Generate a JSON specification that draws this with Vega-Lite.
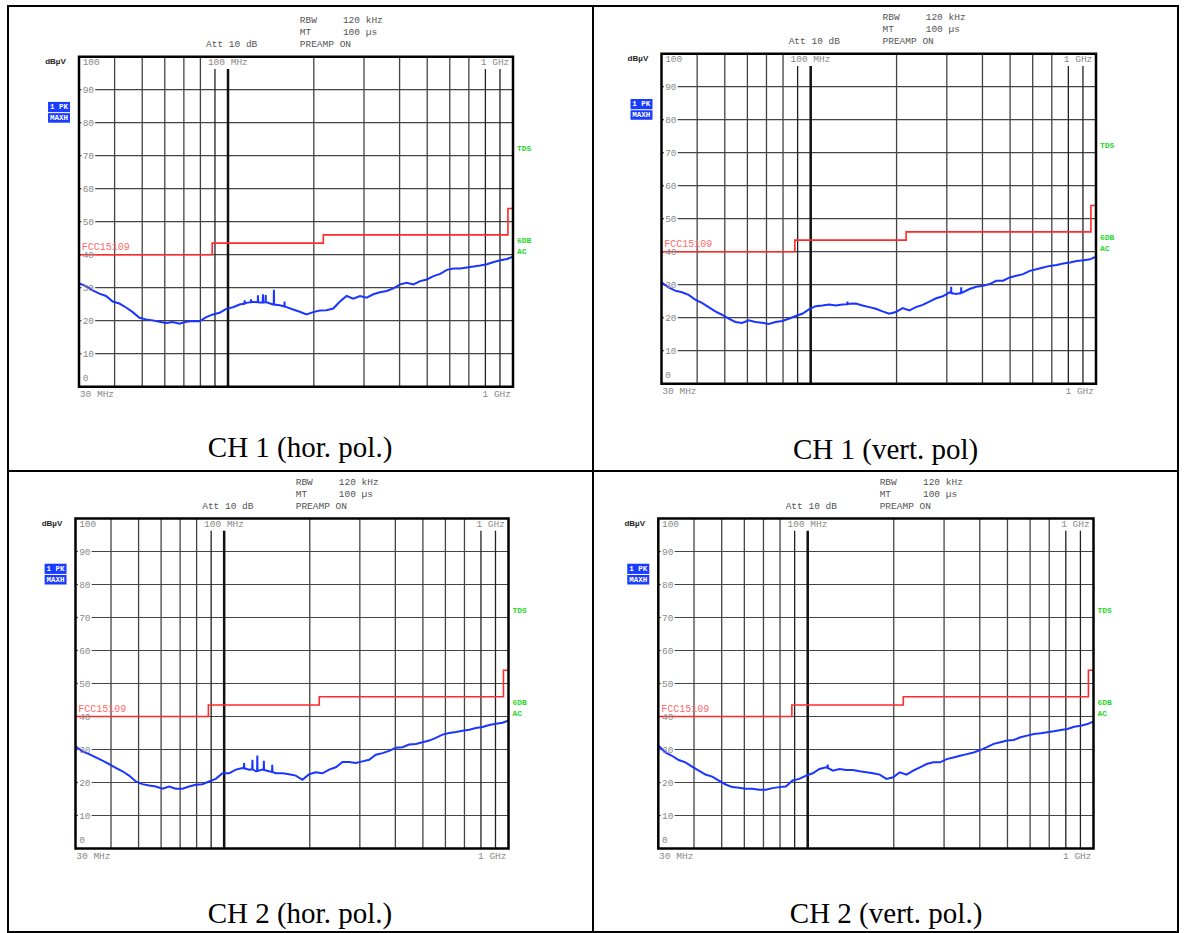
{
"$schema":"https://vega.github.io/schema/vega-lite/v6.json",
"background":"white",
"padding":{"left":7,"top":5,"right":0,"bottom":0},
"config":{"view":{"stroke":"#000","strokeWidth":2},"axis":{"disable":true}},
"datasets":{
"hgrid":[{"v":10},{"v":20},{"v":30},{"v":40},{"v":50},{"v":60},{"v":70},{"v":80},{"v":90}],
"vfull":[{"f":40},{"f":50},{"f":60},{"f":70},{"f":80},{"f":200},{"f":300},{"f":400},{"f":500},{"f":600},{"f":700}],
"vshort":[{"f":90},{"f":800},{"f":900}],
"vthick":[{"f":100}],
"one":[{"n":1}],
"limit":[{"f":30,"v":40},{"f":88,"v":43.5},{"f":216,"v":46},{"f":960,"v":54},{"f":1000,"v":54}],
"lblL":[{"t":"100","f":30.9,"v":98.4},{"t":"90","f":30.9,"v":90},{"t":"80","f":30.9,"v":80},{"t":"70","f":30.9,"v":70},{"t":"60","f":30.9,"v":60},{"t":"50","f":30.9,"v":50},{"t":"40","f":30.9,"v":40},{"t":"30","f":30.9,"v":30},{"t":"20","f":30.9,"v":20},{"t":"10","f":30.9,"v":10},{"t":"0","f":30.9,"v":2.6},{"t":"100 MHz","f":85,"v":98.4},{"t":"1 GHz","f":771,"v":98.4},{"t":"30 MHz","f":30.2,"v":-2.2}],
"lblR":[{"t":"1 GHz","f":984,"v":-2.2}],
"header":[{"t":"Att 10 dB","f":83.7,"v":103.8},{"t":"RBW","f":178.5,"v":111.1},{"t":"120 kHz","f":253,"v":111.1},{"t":"MT","f":178.5,"v":107.5},{"t":"100 µs","f":253,"v":107.5},{"t":"PREAMP ON","f":178.5,"v":103.8}],
"green":[{"t":"TDS","f":1032,"v":72},{"t":"6DB","f":1032,"v":44.1},{"t":"AC","f":1032,"v":40.8}],
"redlbl":[{"t":"FCC15109","f":30.7,"v":42.3}],
"unit":[{"t":"dBµV","f":24.8,"v":98.4}],
"boxes":[{"f1":23.36,"f2":27.9,"v1":83.2,"v2":86.3},{"f1":23.36,"f2":27.9,"v1":80.0,"v2":82.9}],
"boxtext":[{"t":"1 PK","f":25.5,"v":84.75},{"t":"MAXH","f":25.5,"v":81.45}],
"captions":[{"p":1,"t":"CH 1 (hor. pol.)","f":179,"v":-18.6},{"p":2,"t":"CH 1 (vert. pol)","f":183,"v":-20.1},{"p":3,"t":"CH 2 (hor. pol.)","f":184.6,"v":-19.8},{"p":4,"t":"CH 2 (vert. pol.)","f":188,"v":-19.8}],
"trace":[
{"p":1,"f":30,"v":31.3},{"p":1,"f":31.75,"v":30.5},{"p":1,"f":33.49,"v":29.2},{"p":1,"f":35.36,"v":28.2},{"p":1,"f":37.33,"v":27.5},{"p":1,"f":39.39,"v":25.8},{"p":1,"f":41.58,"v":25.2},{"p":1,"f":43.88,"v":24.0},{"p":1,"f":46.31,"v":22.6},{"p":1,"f":48.88,"v":20.9},{"p":1,"f":51.59,"v":20.4},{"p":1,"f":54.46,"v":20.1},{"p":1,"f":57.47,"v":19.7},{"p":1,"f":60.66,"v":19.3},{"p":1,"f":64.03,"v":19.6},{"p":1,"f":67.57,"v":19.1},{"p":1,"f":71.32,"v":19.7},{"p":1,"f":75.28,"v":19.9},{"p":1,"f":79.45,"v":19.8},{"p":1,"f":83.86,"v":21.1},{"p":1,"f":88.52,"v":21.9},{"p":1,"f":93.43,"v":22.4},{"p":1,"f":98.61,"v":23.6},{"p":1,"f":104.1,"v":24.1},{"p":1,"f":109.9,"v":24.9},{"p":1,"f":114.2,"v":25.2},{"p":1,"f":114.4,"v":26.2},{"p":1,"f":114.6,"v":25.2},{"p":1,"f":116.0,"v":25.4},{"p":1,"f":120.2,"v":25.6},{"p":1,"f":120.4,"v":26.5},{"p":1,"f":120.6,"v":25.6},{"p":1,"f":122.4,"v":25.7},{"p":1,"f":127.2,"v":25.6},{"p":1,"f":127.4,"v":27.7},{"p":1,"f":127.6,"v":25.6},{"p":1,"f":129.2,"v":25.5},{"p":1,"f":132.4,"v":25.5},{"p":1,"f":132.6,"v":28.0},{"p":1,"f":132.8,"v":25.5},{"p":1,"f":135.4,"v":25.6},{"p":1,"f":135.6,"v":27.8},{"p":1,"f":135.8,"v":25.6},{"p":1,"f":136.4,"v":25.6},{"p":1,"f":143.9,"v":24.9},{"p":1,"f":144.7,"v":24.9},{"p":1,"f":144.9,"v":29.4},{"p":1,"f":145.1,"v":24.9},{"p":1,"f":151.9,"v":24.7},{"p":1,"f":157.7,"v":24.3},{"p":1,"f":157.9,"v":25.8},{"p":1,"f":158.1,"v":24.3},{"p":1,"f":160.4,"v":24.1},{"p":1,"f":169.2,"v":23.4},{"p":1,"f":178.6,"v":22.7},{"p":1,"f":188.5,"v":21.9},{"p":1,"f":199.0,"v":22.6},{"p":1,"f":210.0,"v":23.1},{"p":1,"f":221.7,"v":23.2},{"p":1,"f":234.0,"v":23.7},{"p":1,"f":247.0,"v":25.8},{"p":1,"f":260.7,"v":27.5},{"p":1,"f":275.1,"v":26.7},{"p":1,"f":290.4,"v":27.5},{"p":1,"f":306.5,"v":27.0},{"p":1,"f":323.5,"v":28.0},{"p":1,"f":341.5,"v":28.6},{"p":1,"f":360.4,"v":29.0},{"p":1,"f":380.4,"v":29.8},{"p":1,"f":401.6,"v":31.0},{"p":1,"f":423.8,"v":31.5},{"p":1,"f":447.3,"v":31.0},{"p":1,"f":472.2,"v":32.0},{"p":1,"f":498.4,"v":32.5},{"p":1,"f":526.1,"v":33.5},{"p":1,"f":555.2,"v":34.2},{"p":1,"f":586.0,"v":35.4},{"p":1,"f":618.6,"v":35.8},{"p":1,"f":652.9,"v":35.8},{"p":1,"f":689.2,"v":36.1},{"p":1,"f":727.5,"v":36.4},{"p":1,"f":767.8,"v":36.7},{"p":1,"f":810.5,"v":37.1},{"p":1,"f":855.5,"v":37.8},{"p":1,"f":903.0,"v":38.3},{"p":1,"f":953.2,"v":38.7},{"p":1,"f":1000,"v":39.4},
{"p":2,"f":30,"v":30.7},{"p":2,"f":31.75,"v":29.2},{"p":2,"f":33.49,"v":28.2},{"p":2,"f":35.36,"v":27.7},{"p":2,"f":37.33,"v":26.9},{"p":2,"f":39.39,"v":25.5},{"p":2,"f":41.58,"v":24.5},{"p":2,"f":43.88,"v":23.2},{"p":2,"f":46.31,"v":21.9},{"p":2,"f":48.88,"v":20.9},{"p":2,"f":51.59,"v":19.7},{"p":2,"f":54.46,"v":18.7},{"p":2,"f":57.47,"v":18.4},{"p":2,"f":60.66,"v":19.2},{"p":2,"f":64.03,"v":18.7},{"p":2,"f":67.57,"v":18.5},{"p":2,"f":71.32,"v":18.1},{"p":2,"f":75.28,"v":18.7},{"p":2,"f":79.45,"v":19.0},{"p":2,"f":83.86,"v":19.7},{"p":2,"f":88.52,"v":20.5},{"p":2,"f":93.43,"v":21.2},{"p":2,"f":98.61,"v":22.5},{"p":2,"f":104.1,"v":23.5},{"p":2,"f":109.9,"v":23.7},{"p":2,"f":116.0,"v":24.0},{"p":2,"f":122.4,"v":23.7},{"p":2,"f":129.2,"v":24.0},{"p":2,"f":134.3,"v":24.1},{"p":2,"f":134.5,"v":24.9},{"p":2,"f":134.7,"v":24.1},{"p":2,"f":136.4,"v":24.2},{"p":2,"f":143.9,"v":24.3},{"p":2,"f":151.9,"v":23.7},{"p":2,"f":160.4,"v":23.2},{"p":2,"f":169.2,"v":22.7},{"p":2,"f":178.6,"v":21.9},{"p":2,"f":188.5,"v":21.2},{"p":2,"f":199.0,"v":21.7},{"p":2,"f":210.0,"v":22.9},{"p":2,"f":221.7,"v":22.2},{"p":2,"f":234.0,"v":23.2},{"p":2,"f":247.0,"v":23.9},{"p":2,"f":260.7,"v":24.9},{"p":2,"f":275.1,"v":25.9},{"p":2,"f":290.4,"v":26.5},{"p":2,"f":306.5,"v":27.7},{"p":2,"f":310.6,"v":27.5},{"p":2,"f":310.8,"v":29.4},{"p":2,"f":311.0,"v":27.5},{"p":2,"f":323.5,"v":27.2},{"p":2,"f":336.7,"v":27.5},{"p":2,"f":336.9,"v":29.2},{"p":2,"f":337.1,"v":27.5},{"p":2,"f":341.5,"v":27.7},{"p":2,"f":360.4,"v":28.7},{"p":2,"f":380.4,"v":29.4},{"p":2,"f":401.6,"v":29.7},{"p":2,"f":423.8,"v":30.2},{"p":2,"f":447.3,"v":31.2},{"p":2,"f":472.2,"v":31.2},{"p":2,"f":498.4,"v":32.2},{"p":2,"f":526.1,"v":32.7},{"p":2,"f":555.2,"v":33.2},{"p":2,"f":586.0,"v":34.2},{"p":2,"f":618.6,"v":34.7},{"p":2,"f":652.9,"v":35.2},{"p":2,"f":689.2,"v":35.7},{"p":2,"f":727.5,"v":36.0},{"p":2,"f":767.8,"v":36.4},{"p":2,"f":810.5,"v":36.7},{"p":2,"f":855.5,"v":37.2},{"p":2,"f":903.0,"v":37.4},{"p":2,"f":953.2,"v":37.7},{"p":2,"f":1000,"v":38.5},
{"p":3,"f":30,"v":31.0},{"p":3,"f":31.75,"v":29.4},{"p":3,"f":33.49,"v":28.6},{"p":3,"f":35.36,"v":27.6},{"p":3,"f":37.33,"v":26.6},{"p":3,"f":39.39,"v":25.6},{"p":3,"f":41.58,"v":24.4},{"p":3,"f":43.88,"v":23.4},{"p":3,"f":46.31,"v":22.1},{"p":3,"f":48.88,"v":20.3},{"p":3,"f":51.59,"v":19.5},{"p":3,"f":54.46,"v":19.1},{"p":3,"f":57.47,"v":18.8},{"p":3,"f":60.66,"v":18.1},{"p":3,"f":64.03,"v":18.8},{"p":3,"f":67.57,"v":18.1},{"p":3,"f":71.32,"v":18.1},{"p":3,"f":75.28,"v":18.8},{"p":3,"f":79.45,"v":19.3},{"p":3,"f":83.86,"v":19.5},{"p":3,"f":88.52,"v":20.3},{"p":3,"f":93.43,"v":21.1},{"p":3,"f":98.61,"v":22.8},{"p":3,"f":104.1,"v":22.8},{"p":3,"f":109.9,"v":23.9},{"p":3,"f":116.0,"v":24.4},{"p":3,"f":117.3,"v":24.3},{"p":3,"f":117.5,"v":25.9},{"p":3,"f":117.7,"v":24.3},{"p":3,"f":122.4,"v":23.9},{"p":3,"f":125.5,"v":24.0},{"p":3,"f":125.7,"v":26.9},{"p":3,"f":125.9,"v":24.0},{"p":3,"f":129.2,"v":23.4},{"p":3,"f":130.6,"v":23.5},{"p":3,"f":130.8,"v":28.2},{"p":3,"f":131.0,"v":23.5},{"p":3,"f":136.4,"v":23.9},{"p":3,"f":137.7,"v":23.8},{"p":3,"f":137.9,"v":26.6},{"p":3,"f":138.1,"v":23.8},{"p":3,"f":143.9,"v":23.4},{"p":3,"f":147.4,"v":23.2},{"p":3,"f":147.6,"v":25.4},{"p":3,"f":147.8,"v":23.2},{"p":3,"f":151.9,"v":22.8},{"p":3,"f":160.4,"v":22.8},{"p":3,"f":169.2,"v":22.5},{"p":3,"f":178.6,"v":22.1},{"p":3,"f":188.5,"v":20.8},{"p":3,"f":199.0,"v":22.5},{"p":3,"f":210.0,"v":23.1},{"p":3,"f":221.7,"v":22.8},{"p":3,"f":234.0,"v":23.9},{"p":3,"f":247.0,"v":24.6},{"p":3,"f":260.7,"v":26.2},{"p":3,"f":275.1,"v":26.2},{"p":3,"f":290.4,"v":25.9},{"p":3,"f":306.5,"v":26.4},{"p":3,"f":323.5,"v":26.9},{"p":3,"f":341.5,"v":28.4},{"p":3,"f":360.4,"v":28.9},{"p":3,"f":380.4,"v":29.6},{"p":3,"f":401.6,"v":30.5},{"p":3,"f":423.8,"v":30.7},{"p":3,"f":447.3,"v":31.5},{"p":3,"f":472.2,"v":31.7},{"p":3,"f":498.4,"v":32.2},{"p":3,"f":526.1,"v":32.7},{"p":3,"f":555.2,"v":33.5},{"p":3,"f":586.0,"v":34.5},{"p":3,"f":618.6,"v":35.0},{"p":3,"f":652.9,"v":35.3},{"p":3,"f":689.2,"v":35.7},{"p":3,"f":727.5,"v":36.0},{"p":3,"f":767.8,"v":36.5},{"p":3,"f":810.5,"v":36.8},{"p":3,"f":855.5,"v":37.4},{"p":3,"f":903.0,"v":37.8},{"p":3,"f":953.2,"v":38.1},{"p":3,"f":1000,"v":38.8},
{"p":4,"f":30,"v":31.2},{"p":4,"f":31.75,"v":29.1},{"p":4,"f":33.49,"v":28.1},{"p":4,"f":35.36,"v":26.8},{"p":4,"f":37.33,"v":26.1},{"p":4,"f":39.39,"v":24.8},{"p":4,"f":41.58,"v":23.6},{"p":4,"f":43.88,"v":22.4},{"p":4,"f":46.31,"v":21.8},{"p":4,"f":48.88,"v":20.6},{"p":4,"f":51.59,"v":19.4},{"p":4,"f":54.46,"v":18.6},{"p":4,"f":57.47,"v":18.4},{"p":4,"f":60.66,"v":18.1},{"p":4,"f":64.03,"v":18.1},{"p":4,"f":67.57,"v":17.8},{"p":4,"f":71.32,"v":17.8},{"p":4,"f":75.28,"v":18.3},{"p":4,"f":79.45,"v":18.6},{"p":4,"f":83.86,"v":18.8},{"p":4,"f":88.52,"v":20.6},{"p":4,"f":93.43,"v":21.1},{"p":4,"f":98.61,"v":22.1},{"p":4,"f":104.1,"v":22.8},{"p":4,"f":109.9,"v":24.1},{"p":4,"f":116.0,"v":24.6},{"p":4,"f":117.3,"v":24.4},{"p":4,"f":117.5,"v":25.4},{"p":4,"f":117.7,"v":24.4},{"p":4,"f":122.4,"v":23.6},{"p":4,"f":129.2,"v":24.1},{"p":4,"f":136.4,"v":23.8},{"p":4,"f":143.9,"v":23.8},{"p":4,"f":151.9,"v":23.4},{"p":4,"f":160.4,"v":23.1},{"p":4,"f":169.2,"v":22.8},{"p":4,"f":178.6,"v":22.4},{"p":4,"f":188.5,"v":21.1},{"p":4,"f":199.0,"v":21.6},{"p":4,"f":210.0,"v":23.1},{"p":4,"f":221.7,"v":22.4},{"p":4,"f":234.0,"v":23.6},{"p":4,"f":247.0,"v":24.6},{"p":4,"f":260.7,"v":25.6},{"p":4,"f":275.1,"v":26.1},{"p":4,"f":290.4,"v":26.1},{"p":4,"f":306.5,"v":27.1},{"p":4,"f":323.5,"v":27.6},{"p":4,"f":341.5,"v":28.1},{"p":4,"f":360.4,"v":28.6},{"p":4,"f":380.4,"v":29.1},{"p":4,"f":401.6,"v":29.8},{"p":4,"f":423.8,"v":30.7},{"p":4,"f":447.3,"v":31.7},{"p":4,"f":472.2,"v":32.2},{"p":4,"f":498.4,"v":32.7},{"p":4,"f":526.1,"v":32.9},{"p":4,"f":555.2,"v":33.7},{"p":4,"f":586.0,"v":34.2},{"p":4,"f":618.6,"v":34.7},{"p":4,"f":652.9,"v":34.9},{"p":4,"f":689.2,"v":35.2},{"p":4,"f":727.5,"v":35.5},{"p":4,"f":767.8,"v":35.9},{"p":4,"f":810.5,"v":36.2},{"p":4,"f":855.5,"v":36.9},{"p":4,"f":903.0,"v":37.2},{"p":4,"f":953.2,"v":37.7},{"p":4,"f":1000,"v":38.5}
]
},
"columns":2,
"spacing":0,
"bounds":"flush",
"concat":[
{"width":585,"height":465,"layer":[
{"data":{"name":"hgrid"},"mark":{"type":"rule","color":"#444","strokeWidth":1.2},"encoding":{"x":{"datum":34.2,"type":"quantitative","scale":{"type":"log","domain":[30,1000],"range":[71,505],"nice":false},"axis":null},"x2":{"datum":1000},"y":{"field":"v","type":"quantitative","scale":{"type":"linear","domain":[0,100],"range":[380.7,50.7],"nice":false,"zero":false},"axis":null}}},
{"data":{"name":"hgrid"},"mark":{"type":"rule","color":"#444","strokeWidth":1.2},"encoding":{"x":{"datum":30,"type":"quantitative"},"x2":{"datum":30.6},"y":{"field":"v","type":"quantitative"}}},
{"data":{"name":"vfull"},"mark":{"type":"rule","color":"#444","strokeWidth":1.3},"encoding":{"x":{"field":"f","type":"quantitative"},"y":{"datum":0,"type":"quantitative"},"y2":{"datum":100}}},
{"data":{"name":"vshort"},"mark":{"type":"rule","color":"#222","strokeWidth":1.3},"encoding":{"x":{"field":"f","type":"quantitative"},"y":{"datum":0,"type":"quantitative"},"y2":{"datum":96.3}}},
{"data":{"name":"vthick"},"mark":{"type":"rule","color":"#111","strokeWidth":2.5},"encoding":{"x":{"field":"f","type":"quantitative"},"y":{"datum":0,"type":"quantitative"},"y2":{"datum":96.3}}},
{"data":{"name":"limit"},"mark":{"type":"line","color":"#ff2a2a","strokeWidth":1.6,"interpolate":"step-after"},"encoding":{"x":{"field":"f","type":"quantitative"},"y":{"field":"v","type":"quantitative"}}},
{"data":{"name":"trace"},"transform":[{"filter":"datum.p==1"}],"mark":{"type":"line","color":"#1a35ff","strokeWidth":2},"encoding":{"x":{"field":"f","type":"quantitative"},"y":{"field":"v","type":"quantitative"}}},
{"data":{"name":"one"},"mark":{"type":"rect","filled":false,"stroke":"#000","strokeWidth":2.5},"encoding":{"x":{"datum":30,"type":"quantitative"},"x2":{"datum":1000},"y":{"datum":0,"type":"quantitative"},"y2":{"datum":100}}},
{"data":{"name":"lblL"},"mark":{"type":"text","align":"left","baseline":"middle","font":"Liberation Mono","fontSize":9.5,"color":"#888"},"encoding":{"x":{"field":"f","type":"quantitative"},"y":{"field":"v","type":"quantitative"},"text":{"field":"t"}}},
{"data":{"name":"lblR"},"mark":{"type":"text","align":"right","baseline":"middle","font":"Liberation Mono","fontSize":9.5,"color":"#888"},"encoding":{"x":{"field":"f","type":"quantitative"},"y":{"field":"v","type":"quantitative"},"text":{"field":"t"}}},
{"data":{"name":"header"},"mark":{"type":"text","align":"left","baseline":"middle","font":"Liberation Mono","fontSize":9.5,"color":"#555"},"encoding":{"x":{"field":"f","type":"quantitative"},"y":{"field":"v","type":"quantitative"},"text":{"field":"t"}}},
{"data":{"name":"green"},"mark":{"type":"text","align":"left","baseline":"middle","font":"Liberation Mono","fontSize":8,"fontWeight":"bold","color":"#2ad62a"},"encoding":{"x":{"field":"f","type":"quantitative"},"y":{"field":"v","type":"quantitative"},"text":{"field":"t"}}},
{"data":{"name":"redlbl"},"mark":{"type":"text","align":"left","baseline":"middle","font":"Liberation Mono","fontSize":10,"color":"#ff6b6b"},"encoding":{"x":{"field":"f","type":"quantitative"},"y":{"field":"v","type":"quantitative"},"text":{"field":"t"}}},
{"data":{"name":"unit"},"mark":{"type":"text","align":"center","baseline":"middle","font":"Liberation Sans","fontSize":8,"fontWeight":"bold","color":"#222"},"encoding":{"x":{"field":"f","type":"quantitative"},"y":{"field":"v","type":"quantitative"},"text":{"field":"t"}}},
{"data":{"name":"boxes"},"mark":{"type":"rect","color":"#1a3cff"},"encoding":{"x":{"field":"f1","type":"quantitative"},"x2":{"field":"f2"},"y":{"field":"v1","type":"quantitative"},"y2":{"field":"v2"}}},
{"data":{"name":"boxtext"},"mark":{"type":"text","align":"center","baseline":"middle","font":"Liberation Mono","fontSize":7.5,"fontWeight":"bold","color":"#fff"},"encoding":{"x":{"field":"f","type":"quantitative"},"y":{"field":"v","type":"quantitative"},"text":{"field":"t"}}},
{"data":{"name":"captions"},"transform":[{"filter":"datum.p==1"}],"mark":{"type":"text","align":"center","baseline":"middle","font":"Liberation Serif","fontSize":29,"color":"#000"},"encoding":{"x":{"field":"f","type":"quantitative"},"y":{"field":"v","type":"quantitative"},"text":{"field":"t"}}}
]},
{"width":585,"height":465,"layer":[
{"data":{"name":"hgrid"},"mark":{"type":"rule","color":"#444","strokeWidth":1.2},"encoding":{"x":{"datum":34.2,"type":"quantitative","scale":{"type":"log","domain":[30,1000],"range":[68.5,503],"nice":false},"axis":null},"x2":{"datum":1000},"y":{"field":"v","type":"quantitative","scale":{"type":"linear","domain":[0,100],"range":[377.7,47.7],"nice":false,"zero":false},"axis":null}}},
{"data":{"name":"hgrid"},"mark":{"type":"rule","color":"#444","strokeWidth":1.2},"encoding":{"x":{"datum":30,"type":"quantitative"},"x2":{"datum":30.6},"y":{"field":"v","type":"quantitative"}}},
{"data":{"name":"vfull"},"mark":{"type":"rule","color":"#444","strokeWidth":1.3},"encoding":{"x":{"field":"f","type":"quantitative"},"y":{"datum":0,"type":"quantitative"},"y2":{"datum":100}}},
{"data":{"name":"vshort"},"mark":{"type":"rule","color":"#222","strokeWidth":1.3},"encoding":{"x":{"field":"f","type":"quantitative"},"y":{"datum":0,"type":"quantitative"},"y2":{"datum":96.3}}},
{"data":{"name":"vthick"},"mark":{"type":"rule","color":"#111","strokeWidth":2.5},"encoding":{"x":{"field":"f","type":"quantitative"},"y":{"datum":0,"type":"quantitative"},"y2":{"datum":96.3}}},
{"data":{"name":"limit"},"mark":{"type":"line","color":"#ff2a2a","strokeWidth":1.6,"interpolate":"step-after"},"encoding":{"x":{"field":"f","type":"quantitative"},"y":{"field":"v","type":"quantitative"}}},
{"data":{"name":"trace"},"transform":[{"filter":"datum.p==2"}],"mark":{"type":"line","color":"#1a35ff","strokeWidth":2},"encoding":{"x":{"field":"f","type":"quantitative"},"y":{"field":"v","type":"quantitative"}}},
{"data":{"name":"one"},"mark":{"type":"rect","filled":false,"stroke":"#000","strokeWidth":2.5},"encoding":{"x":{"datum":30,"type":"quantitative"},"x2":{"datum":1000},"y":{"datum":0,"type":"quantitative"},"y2":{"datum":100}}},
{"data":{"name":"lblL"},"mark":{"type":"text","align":"left","baseline":"middle","font":"Liberation Mono","fontSize":9.5,"color":"#888"},"encoding":{"x":{"field":"f","type":"quantitative"},"y":{"field":"v","type":"quantitative"},"text":{"field":"t"}}},
{"data":{"name":"lblR"},"mark":{"type":"text","align":"right","baseline":"middle","font":"Liberation Mono","fontSize":9.5,"color":"#888"},"encoding":{"x":{"field":"f","type":"quantitative"},"y":{"field":"v","type":"quantitative"},"text":{"field":"t"}}},
{"data":{"name":"header"},"mark":{"type":"text","align":"left","baseline":"middle","font":"Liberation Mono","fontSize":9.5,"color":"#555"},"encoding":{"x":{"field":"f","type":"quantitative"},"y":{"field":"v","type":"quantitative"},"text":{"field":"t"}}},
{"data":{"name":"green"},"mark":{"type":"text","align":"left","baseline":"middle","font":"Liberation Mono","fontSize":8,"fontWeight":"bold","color":"#2ad62a"},"encoding":{"x":{"field":"f","type":"quantitative"},"y":{"field":"v","type":"quantitative"},"text":{"field":"t"}}},
{"data":{"name":"redlbl"},"mark":{"type":"text","align":"left","baseline":"middle","font":"Liberation Mono","fontSize":10,"color":"#ff6b6b"},"encoding":{"x":{"field":"f","type":"quantitative"},"y":{"field":"v","type":"quantitative"},"text":{"field":"t"}}},
{"data":{"name":"unit"},"mark":{"type":"text","align":"center","baseline":"middle","font":"Liberation Sans","fontSize":8,"fontWeight":"bold","color":"#222"},"encoding":{"x":{"field":"f","type":"quantitative"},"y":{"field":"v","type":"quantitative"},"text":{"field":"t"}}},
{"data":{"name":"boxes"},"mark":{"type":"rect","color":"#1a3cff"},"encoding":{"x":{"field":"f1","type":"quantitative"},"x2":{"field":"f2"},"y":{"field":"v1","type":"quantitative"},"y2":{"field":"v2"}}},
{"data":{"name":"boxtext"},"mark":{"type":"text","align":"center","baseline":"middle","font":"Liberation Mono","fontSize":7.5,"fontWeight":"bold","color":"#fff"},"encoding":{"x":{"field":"f","type":"quantitative"},"y":{"field":"v","type":"quantitative"},"text":{"field":"t"}}},
{"data":{"name":"captions"},"transform":[{"filter":"datum.p==2"}],"mark":{"type":"text","align":"center","baseline":"middle","font":"Liberation Serif","fontSize":29,"color":"#000"},"encoding":{"x":{"field":"f","type":"quantitative"},"y":{"field":"v","type":"quantitative"},"text":{"field":"t"}}}
]},
{"width":585,"height":461,"layer":[
{"data":{"name":"hgrid"},"mark":{"type":"rule","color":"#444","strokeWidth":1.2},"encoding":{"x":{"datum":34.2,"type":"quantitative","scale":{"type":"log","domain":[30,1000],"range":[67.5,500.5],"nice":false},"axis":null},"x2":{"datum":1000},"y":{"field":"v","type":"quantitative","scale":{"type":"linear","domain":[0,100],"range":[377.5,47.5],"nice":false,"zero":false},"axis":null}}},
{"data":{"name":"hgrid"},"mark":{"type":"rule","color":"#444","strokeWidth":1.2},"encoding":{"x":{"datum":30,"type":"quantitative"},"x2":{"datum":30.6},"y":{"field":"v","type":"quantitative"}}},
{"data":{"name":"vfull"},"mark":{"type":"rule","color":"#444","strokeWidth":1.3},"encoding":{"x":{"field":"f","type":"quantitative"},"y":{"datum":0,"type":"quantitative"},"y2":{"datum":100}}},
{"data":{"name":"vshort"},"mark":{"type":"rule","color":"#222","strokeWidth":1.3},"encoding":{"x":{"field":"f","type":"quantitative"},"y":{"datum":0,"type":"quantitative"},"y2":{"datum":96.3}}},
{"data":{"name":"vthick"},"mark":{"type":"rule","color":"#111","strokeWidth":2.5},"encoding":{"x":{"field":"f","type":"quantitative"},"y":{"datum":0,"type":"quantitative"},"y2":{"datum":96.3}}},
{"data":{"name":"limit"},"mark":{"type":"line","color":"#ff2a2a","strokeWidth":1.6,"interpolate":"step-after"},"encoding":{"x":{"field":"f","type":"quantitative"},"y":{"field":"v","type":"quantitative"}}},
{"data":{"name":"trace"},"transform":[{"filter":"datum.p==3"}],"mark":{"type":"line","color":"#1a35ff","strokeWidth":2},"encoding":{"x":{"field":"f","type":"quantitative"},"y":{"field":"v","type":"quantitative"}}},
{"data":{"name":"one"},"mark":{"type":"rect","filled":false,"stroke":"#000","strokeWidth":2.5},"encoding":{"x":{"datum":30,"type":"quantitative"},"x2":{"datum":1000},"y":{"datum":0,"type":"quantitative"},"y2":{"datum":100}}},
{"data":{"name":"lblL"},"mark":{"type":"text","align":"left","baseline":"middle","font":"Liberation Mono","fontSize":9.5,"color":"#888"},"encoding":{"x":{"field":"f","type":"quantitative"},"y":{"field":"v","type":"quantitative"},"text":{"field":"t"}}},
{"data":{"name":"lblR"},"mark":{"type":"text","align":"right","baseline":"middle","font":"Liberation Mono","fontSize":9.5,"color":"#888"},"encoding":{"x":{"field":"f","type":"quantitative"},"y":{"field":"v","type":"quantitative"},"text":{"field":"t"}}},
{"data":{"name":"header"},"mark":{"type":"text","align":"left","baseline":"middle","font":"Liberation Mono","fontSize":9.5,"color":"#555"},"encoding":{"x":{"field":"f","type":"quantitative"},"y":{"field":"v","type":"quantitative"},"text":{"field":"t"}}},
{"data":{"name":"green"},"mark":{"type":"text","align":"left","baseline":"middle","font":"Liberation Mono","fontSize":8,"fontWeight":"bold","color":"#2ad62a"},"encoding":{"x":{"field":"f","type":"quantitative"},"y":{"field":"v","type":"quantitative"},"text":{"field":"t"}}},
{"data":{"name":"redlbl"},"mark":{"type":"text","align":"left","baseline":"middle","font":"Liberation Mono","fontSize":10,"color":"#ff6b6b"},"encoding":{"x":{"field":"f","type":"quantitative"},"y":{"field":"v","type":"quantitative"},"text":{"field":"t"}}},
{"data":{"name":"unit"},"mark":{"type":"text","align":"center","baseline":"middle","font":"Liberation Sans","fontSize":8,"fontWeight":"bold","color":"#222"},"encoding":{"x":{"field":"f","type":"quantitative"},"y":{"field":"v","type":"quantitative"},"text":{"field":"t"}}},
{"data":{"name":"boxes"},"mark":{"type":"rect","color":"#1a3cff"},"encoding":{"x":{"field":"f1","type":"quantitative"},"x2":{"field":"f2"},"y":{"field":"v1","type":"quantitative"},"y2":{"field":"v2"}}},
{"data":{"name":"boxtext"},"mark":{"type":"text","align":"center","baseline":"middle","font":"Liberation Mono","fontSize":7.5,"fontWeight":"bold","color":"#fff"},"encoding":{"x":{"field":"f","type":"quantitative"},"y":{"field":"v","type":"quantitative"},"text":{"field":"t"}}},
{"data":{"name":"captions"},"transform":[{"filter":"datum.p==3"}],"mark":{"type":"text","align":"center","baseline":"middle","font":"Liberation Serif","fontSize":29,"color":"#000"},"encoding":{"x":{"field":"f","type":"quantitative"},"y":{"field":"v","type":"quantitative"},"text":{"field":"t"}}}
]},
{"width":585,"height":461,"layer":[
{"data":{"name":"hgrid"},"mark":{"type":"rule","color":"#444","strokeWidth":1.2},"encoding":{"x":{"datum":34.2,"type":"quantitative","scale":{"type":"log","domain":[30,1000],"range":[65.3,500.5],"nice":false},"axis":null},"x2":{"datum":1000},"y":{"field":"v","type":"quantitative","scale":{"type":"linear","domain":[0,100],"range":[377.5,47.5],"nice":false,"zero":false},"axis":null}}},
{"data":{"name":"hgrid"},"mark":{"type":"rule","color":"#444","strokeWidth":1.2},"encoding":{"x":{"datum":30,"type":"quantitative"},"x2":{"datum":30.6},"y":{"field":"v","type":"quantitative"}}},
{"data":{"name":"vfull"},"mark":{"type":"rule","color":"#444","strokeWidth":1.3},"encoding":{"x":{"field":"f","type":"quantitative"},"y":{"datum":0,"type":"quantitative"},"y2":{"datum":100}}},
{"data":{"name":"vshort"},"mark":{"type":"rule","color":"#222","strokeWidth":1.3},"encoding":{"x":{"field":"f","type":"quantitative"},"y":{"datum":0,"type":"quantitative"},"y2":{"datum":96.3}}},
{"data":{"name":"vthick"},"mark":{"type":"rule","color":"#111","strokeWidth":2.5},"encoding":{"x":{"field":"f","type":"quantitative"},"y":{"datum":0,"type":"quantitative"},"y2":{"datum":96.3}}},
{"data":{"name":"limit"},"mark":{"type":"line","color":"#ff2a2a","strokeWidth":1.6,"interpolate":"step-after"},"encoding":{"x":{"field":"f","type":"quantitative"},"y":{"field":"v","type":"quantitative"}}},
{"data":{"name":"trace"},"transform":[{"filter":"datum.p==4"}],"mark":{"type":"line","color":"#1a35ff","strokeWidth":2},"encoding":{"x":{"field":"f","type":"quantitative"},"y":{"field":"v","type":"quantitative"}}},
{"data":{"name":"one"},"mark":{"type":"rect","filled":false,"stroke":"#000","strokeWidth":2.5},"encoding":{"x":{"datum":30,"type":"quantitative"},"x2":{"datum":1000},"y":{"datum":0,"type":"quantitative"},"y2":{"datum":100}}},
{"data":{"name":"lblL"},"mark":{"type":"text","align":"left","baseline":"middle","font":"Liberation Mono","fontSize":9.5,"color":"#888"},"encoding":{"x":{"field":"f","type":"quantitative"},"y":{"field":"v","type":"quantitative"},"text":{"field":"t"}}},
{"data":{"name":"lblR"},"mark":{"type":"text","align":"right","baseline":"middle","font":"Liberation Mono","fontSize":9.5,"color":"#888"},"encoding":{"x":{"field":"f","type":"quantitative"},"y":{"field":"v","type":"quantitative"},"text":{"field":"t"}}},
{"data":{"name":"header"},"mark":{"type":"text","align":"left","baseline":"middle","font":"Liberation Mono","fontSize":9.5,"color":"#555"},"encoding":{"x":{"field":"f","type":"quantitative"},"y":{"field":"v","type":"quantitative"},"text":{"field":"t"}}},
{"data":{"name":"green"},"mark":{"type":"text","align":"left","baseline":"middle","font":"Liberation Mono","fontSize":8,"fontWeight":"bold","color":"#2ad62a"},"encoding":{"x":{"field":"f","type":"quantitative"},"y":{"field":"v","type":"quantitative"},"text":{"field":"t"}}},
{"data":{"name":"redlbl"},"mark":{"type":"text","align":"left","baseline":"middle","font":"Liberation Mono","fontSize":10,"color":"#ff6b6b"},"encoding":{"x":{"field":"f","type":"quantitative"},"y":{"field":"v","type":"quantitative"},"text":{"field":"t"}}},
{"data":{"name":"unit"},"mark":{"type":"text","align":"center","baseline":"middle","font":"Liberation Sans","fontSize":8,"fontWeight":"bold","color":"#222"},"encoding":{"x":{"field":"f","type":"quantitative"},"y":{"field":"v","type":"quantitative"},"text":{"field":"t"}}},
{"data":{"name":"boxes"},"mark":{"type":"rect","color":"#1a3cff"},"encoding":{"x":{"field":"f1","type":"quantitative"},"x2":{"field":"f2"},"y":{"field":"v1","type":"quantitative"},"y2":{"field":"v2"}}},
{"data":{"name":"boxtext"},"mark":{"type":"text","align":"center","baseline":"middle","font":"Liberation Mono","fontSize":7.5,"fontWeight":"bold","color":"#fff"},"encoding":{"x":{"field":"f","type":"quantitative"},"y":{"field":"v","type":"quantitative"},"text":{"field":"t"}}},
{"data":{"name":"captions"},"transform":[{"filter":"datum.p==4"}],"mark":{"type":"text","align":"center","baseline":"middle","font":"Liberation Serif","fontSize":29,"color":"#000"},"encoding":{"x":{"field":"f","type":"quantitative"},"y":{"field":"v","type":"quantitative"},"text":{"field":"t"}}}
]}
]
}
